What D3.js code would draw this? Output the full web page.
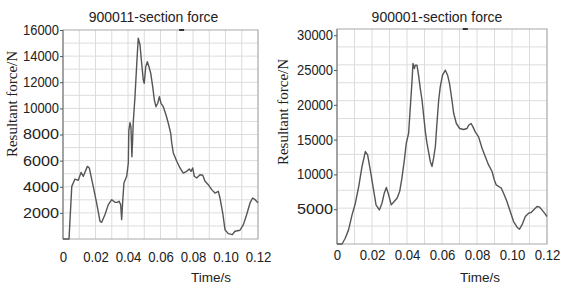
<!DOCTYPE html>
<html lang="en">
<head>
<meta charset="UTF-8">
<title>Section force</title>
<script src="https://d3js.org/d3.v7.min.js"></script>
<style>
    body { margin: 0; background: #fff; }
    svg { display: block; }
    .tick-label { font-family: Arial, "Liberation Sans", sans-serif; fill: #222; }
    .title { font-family: Arial, "Liberation Sans", sans-serif; font-size: 14px; fill: #222; }
    .ylab { font-family: "Times New Roman", "Liberation Serif", serif; font-size: 15px; fill: #222; }
    .xlab { font-family: Arial, "Liberation Sans", sans-serif; font-size: 13.5px; fill: #222; }
</style>
</head>
<body>
<div id="chart"></div>
<script>
// time ticks shared by both panels
const timeTicks = [0, 0.02, 0.04, 0.06, 0.08, 0.10, 0.12];
const timeTickLabels = ["0", "0.02", "0.04", "0.06", "0.08", "0.10", "0.12"];

// 900011 section force (t in s, force in N)
const leftTime = [0, .0037, .0054, .0074, .0094, .0111, .0125, .0150, .0162, .0186, .0207, .0228, .0238, .0258, .0279,
    .0300, .0320, .0334, .0345, .0355, .0361, .0367, .0375, .0392, .0402, .0405, .0412, .0418, .0424, .0428, .0432,
    .0443, .0454, .0463, .0474, .0484, .0494, .0500, .0509, .0519, .0529, .0540, .0552, .0562, .0572, .0583, .0593,
    .0603, .0617, .0634, .0648, .0663, .0669, .0679, .0700, .0720, .0740, .0761, .0777, .0788, .0798, .0808, .0823,
    .0843, .0860, .0874, .0894, .0915, .0935, .0956, .0966, .0983, .0997, .1017, .1042, .1058, .1089, .1110, .1130,
    .1151, .1167, .1182, .1200];
const leftForce = [0, 0, 4030, 4590, 4490, 5100, 4800, 5560, 5430, 4030, 2750, 1350, 1280, 1860, 2630,
    3010, 2810, 2800, 2890, 2630, 1480, 2800, 4290, 4800, 5820, 8300, 8900, 8600, 6300, 7400, 8860,
    10900, 13450, 15370, 14850, 13450, 12170, 11920, 13190, 13570, 13190, 12680, 11660, 10640, 10130, 10390, 10900,
    10390, 10130, 9490, 8860, 8090, 7350, 6580, 5950, 5440, 5050, 5180, 5360, 5180, 5440, 4800, 4670,
    4920, 4880, 4420, 4160, 3780, 3520, 3650, 3140, 1990, 710, 410, 330, 590, 670, 1100, 1860,
    2760, 3140, 3010, 2780];
const leftYTicks = [2000, 4000, 6000, 8000, 10000, 12000, 14000, 16000];

// 900001 section force
const rightTime = [0, .0029, .0047, .0066, .0086, .0105, .0124, .0143, .0162, .0175, .0190, .0209, .0223, .0242, .0257,
    .0270, .0282, .0295, .0310, .0327, .0343, .0358, .0371, .0385, .0396, .0409, .0419, .0429, .0434, .0442, .0447,
    .0457, .0466, .0476, .0486, .0495, .0505, .0514, .0523, .0533, .0543, .0552, .0562, .0571, .0581, .0590, .0603,
    .0619, .0632, .0643, .0657, .0667, .0682, .0701, .0723, .0743, .0752, .0766, .0777, .0790, .0809, .0829, .0847,
    .0866, .0886, .0899, .0910, .0924, .0939, .0952, .0971, .0990, .1009, .1029, .1043, .1057, .1076, .1095, .1109,
    .1123, .1143, .1158, .1171, .1186, .1200];
const rightForce = [0, 0, 830, 2030, 4180, 5860, 8260, 11140, 13290, 12800, 10650, 7770, 5620, 4900, 5860,
    7300, 8120, 7060, 5620, 6110, 6580, 7540, 9460, 12090, 14490, 15880, 19700, 23540, 25940, 25220, 25690,
    25690, 24260, 22340, 20660, 18510, 16110, 14490, 13290, 11860, 11140, 12330, 14010, 17320, 20660, 22580, 24260,
    24980, 24260, 23060, 20660, 18750, 17320, 16600, 16450, 16600, 17070, 17320, 16830, 16110, 15390, 13770, 12570,
    11370, 10420, 9210, 8490, 8260, 8020, 7300, 6110, 4670, 3230, 2410, 2130, 2740, 3950, 4430, 4530,
    4900, 5390, 5290, 4900, 4430, 3950];
const rightYTicks = [5000, 10000, 15000, 20000, 25000, 30000];

const svg = d3.select("#chart").append("svg")
    .attr("width", 561)
    .attr("height", 286);

function drawPanel(p) {
    const x = d3.scaleLinear().domain([0, 0.12]).range([p.left, p.right]);
    const y = d3.scaleLinear().domain([0, p.yMax]).range([p.bottom, p.top]);
    const g = svg.append("g");

    // grid
    const vGrid = d3.range(0, 13).map(i => i * 0.01);
    const hGrid = d3.range(1, p.hDiv).map(i => i * p.yMax / p.hDiv);
    g.selectAll(".vg").data(vGrid).join("line")
        .attr("x1", d => x(d)).attr("x2", d => x(d))
        .attr("y1", p.top).attr("y2", p.bottom)
        .attr("stroke", "#dcdcdc").attr("stroke-width", 1);
    g.selectAll(".hg").data(hGrid).join("line")
        .attr("x1", p.left).attr("x2", p.right)
        .attr("y1", d => y(d)).attr("y2", d => y(d))
        .attr("stroke", "#dcdcdc").attr("stroke-width", 1);

    // frame
    g.append("rect")
        .attr("x", p.left).attr("y", p.top)
        .attr("width", p.right - p.left).attr("height", p.bottom - p.top)
        .attr("fill", "none").attr("stroke", "#a8a8a8").attr("stroke-width", 1);
    g.append("line")
        .attr("x1", p.left).attr("x2", p.left).attr("y1", p.top).attr("y2", p.bottom)
        .attr("stroke", "#888").attr("stroke-width", 1.2);

    // small marker on the top edge
    g.append("line")
        .attr("x1", x(p.markT) - 2.5).attr("x2", x(p.markT) + 2.5)
        .attr("y1", p.top).attr("y2", p.top)
        .attr("stroke", "#333").attr("stroke-width", 2);

    // y axis
    const yAxis = g.append("g")
        .attr("transform", `translate(${p.left},0)`)
        .call(d3.axisLeft(y).tickValues(p.yTicks).tickSize(3).tickPadding(1).tickFormat(d3.format("d")));
    yAxis.select(".domain").remove();
    yAxis.selectAll("line").attr("stroke", "#555");
    yAxis.selectAll("text").attr("class", "tick-label")
        .style("font-size", "14px").attr("fill", "#222")
        .attr("textLength", p.yTickW).attr("lengthAdjust", "spacingAndGlyphs");

    // x axis labels
    const xAxis = g.append("g")
        .attr("transform", `translate(0,${p.bottom})`)
        .call(d3.axisBottom(x).tickValues(timeTicks).tickSize(0).tickPadding(p.xPad)
            .tickFormat((d, i) => timeTickLabels[i]));
    xAxis.select(".domain").remove();
    xAxis.selectAll("text").attr("class", "tick-label")
        .style("font-size", "15px").attr("fill", "#222")
        .attr("transform", "scale(0.88,1)")
        .attr("x", function(d) { return 0; });
    xAxis.selectAll(".tick text").each(function() {
        // keep the narrow look: scale around tick centre
        d3.select(this).attr("transform", "scale(0.88,1)");
    });

    // line
    const pts = p.time.map((t, i) => [t, p.force[i]]);
    g.append("path")
        .datum(pts)
        .attr("fill", "none")
        .attr("stroke", "#555")
        .attr("stroke-width", 1.4)
        .attr("stroke-linejoin", "round")
        .attr("d", d3.line().x(d => x(d[0])).y(d => y(d[1])).curve(d3.curveLinear));

    // title
    svg.append("text").attr("class", "title")
        .attr("x", (p.left + p.right) / 2 + p.titleDx).attr("y", p.titleY)
        .attr("text-anchor", "middle").text(p.title);

    // y label
    svg.append("text").attr("class", "ylab")
        .attr("transform", `translate(${p.ylabX},${p.ylabY}) rotate(-90)`)
        .attr("text-anchor", "middle").text("Resultant force/N");

    // x label
    svg.append("text").attr("class", "xlab")
        .attr("x", p.xlabX).attr("y", 282)
        .attr("text-anchor", "middle").text("Time/s");
}

drawPanel({
    title: "900011-section force", titleDx: -7, titleY: 22,
    left: 63, right: 258, top: 30, bottom: 239,
    yMax: 16000, hDiv: 16, yTicks: leftYTicks, yTickW: 36,
    time: leftTime, force: leftForce, markT: 0.0730,
    xPad: 12, ylabX: 17, ylabY: 104, xlabX: 211
});

drawPanel({
    title: "900001-section force", titleDx: -5, titleY: 22,
    left: 337, right: 547, top: 29, bottom: 244,
    yMax: 30900, hDiv: 12, yTicks: rightYTicks, yTickW: 36,
    time: rightTime, force: rightForce, markT: 0.0733,
    xPad: 5, ylabX: 288, ylabY: 112, xlabX: 480
});
</script>
</body>
</html>
